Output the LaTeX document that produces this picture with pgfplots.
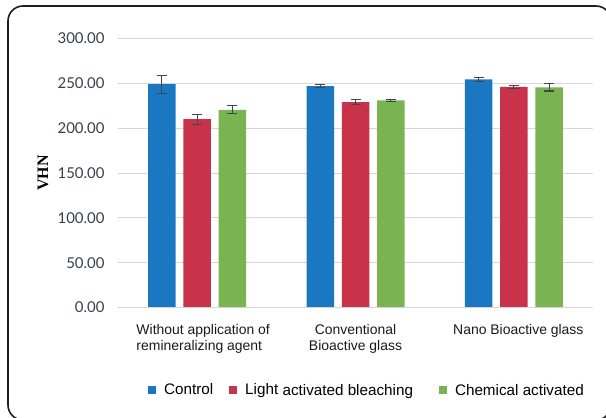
\documentclass[border=0pt]{standalone}
\usepackage{pgfplots}
\pgfplotsset{compat=1.18}
\usepackage{fontspec}
\setmainfont{Liberation Sans}
\newfontfamily\latofont{Lato}
\newfontfamily\serifbold{Liberation Serif}
\definecolor{cblue}{HTML}{1A78C2}
\definecolor{cred}{HTML}{C8334A}
\definecolor{cgreen}{HTML}{7AB450}
\definecolor{tickc}{HTML}{34404B}
\definecolor{gridc}{HTML}{D4D6D8}
\definecolor{errc}{HTML}{3F464C}
\begin{document}
\begin{tikzpicture}[x=1bp,y=1bp]
\path[use as bounding box] (0,0) rectangle (606,417);
\draw[line width=1.6bp, color=black!88, rounded corners=15bp] (8,-3) rectangle (611,411);
\begin{axis}[
  at={(118bp,109.5bp)}, anchor=south west,
  scale only axis, width=475bp, height=269bp,
  xmin=-0.5, xmax=2.5, ymin=0, ymax=300,
  ytick={0,50,...,300},
  xtick={0,1,2},
  xticklabels={{\hspace{12bp}\begin{tabular}{@{}l@{}}Without application of\\remineralizing agent\end{tabular}},
               {\begin{tabular}{@{}c@{}}Conventional\\Bioactive glass\end{tabular}},
               {\hspace{9bp}\begin{tabular}{@{}c@{}}Nano Bioactive glass\\\strut\end{tabular}}},
  xticklabel style={font=\fontsize{14}{16.5}\selectfont, text=black!90, yshift=-12bp},
  yticklabel style={font=\latofont\fontsize{15}{15}\selectfont, text=tickc, xshift=-10bp},
  /pgf/number format/assume math mode=true,
  /pgf/number format/.cd, fixed, fixed zerofill, precision=2, /pgfplots/.cd,
  major tick length=0pt,
  axis line style={draw=none},
  ymajorgrids, grid style={gridc, line width=1bp},
  ylabel={\serifbold\bfseries\fontsize{16}{16}\selectfont VHN},
  ylabel style={at={(axis description cs:-0.158,0.5)}, anchor=center, rotate=0},
  ybar=7.75bp, bar width=27.5bp,
  legend columns=3,
  legend style={at={(axis description cs:0.063,-0.307)}, anchor=west, draw=none, fill=none,
    font=\fontsize{15.3}{15}\selectfont, inner sep=0pt,
    /tikz/every even column/.append style={column sep=14bp},
    /tikz/every odd column/.append style={column sep=6bp}},
  legend image code/.code={\fill[#1,draw=none] (0bp,-4bp) rectangle (8bp,4bp);},
  error bars/error bar style={errc, line width=1.1bp},
  error bars/error mark options={errc, line width=1.1bp, mark size=5bp, rotate=90},
]
\addplot[fill=cblue, draw=none, error bars/.cd, y dir=both, y explicit]
  coordinates {(0,249) +- (0,10) (1,247) +- (0,1.5) (2,254.5) +- (0,2)};
\addplot[fill=cred, draw=none, error bars/.cd, y dir=both, y explicit]
  coordinates {(0,210) +- (0,5.5) (1,229) +- (0,3) (2,246) +- (0,2)};
\addplot[fill=cgreen, draw=none, error bars/.cd, y dir=both, y explicit]
  coordinates {(0,220.5) +- (0,4.5) (1,231) +- (0,1.2) (2,245.5) +- (0,4)};
\draw[gridc, line width=1bp] (axis cs:-0.5,0) -- (axis cs:2.5,0);
\legend{Control, {\raisebox{1.5bp}{Light} activated bleaching\hspace*{10bp}\mbox{}}, {\raisebox{-1bp}{Chemical activated}}}
\end{axis}
\end{tikzpicture}
\end{document}
